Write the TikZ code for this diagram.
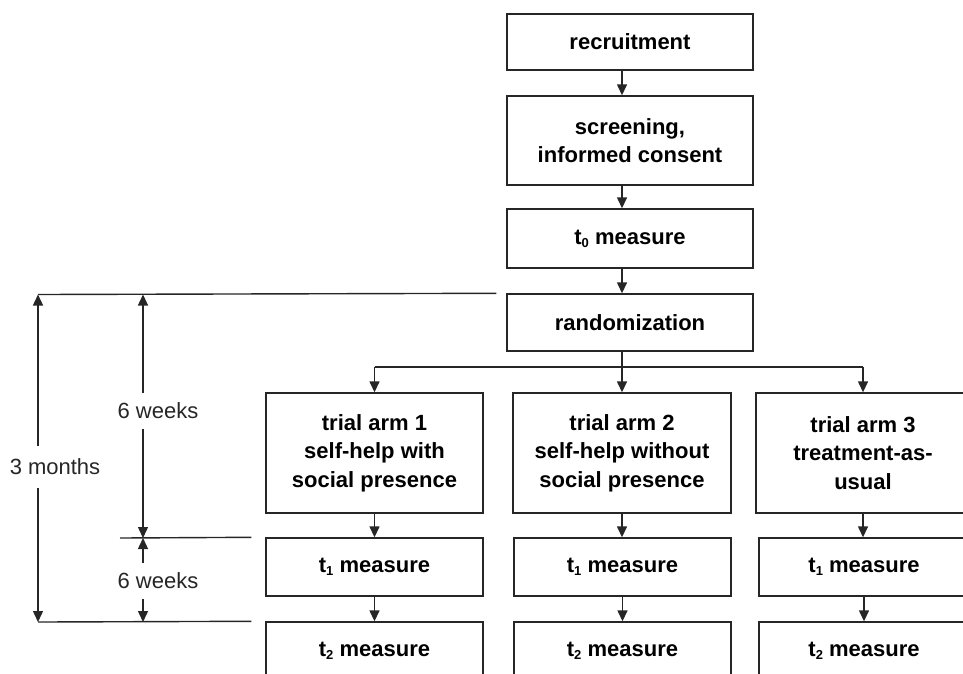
\documentclass[tikz,border=0pt]{standalone}
\usepackage{fontspec}
\setmainfont{Liberation Sans}
\usetikzlibrary{arrows.meta,positioning}

\newcommand{\idx}[1]{\raisebox{-0.25ex}{\fontsize{13}{13}\selectfont #1}}

\tikzset{
  box/.style={draw=black!85, line width=1.4pt, align=center, inner sep=0pt,
    font=\bfseries\fontsize{22}{28.5}\selectfont},
  line/.style={draw=black!85, line width=1.4pt},
  arr/.style={line, -{Triangle[width=10pt,length=11pt]}},
  dimarr/.style={line, {Triangle[width=10pt,length=11pt]}-{Triangle[width=10pt,length=11pt]}},
  dimlbl/.style={fill=white, text=black!85, inner xsep=1pt,
    font=\fontsize{22}{26}\selectfont}
}

\begin{document}
\begin{tikzpicture}[x=1pt,y=-1pt]
\useasboundingbox (0,0) rectangle (963,673);
% main chain
\node[box, minimum width=246pt, minimum height=56pt] (recruit) at (630,42) {recruitment};
\node[box, minimum width=246pt, minimum height=89pt] (screen) at (630,140.5) {screening,\\informed consent};
\node[box, minimum width=246pt, minimum height=59pt] (tzero) at (630,238.5) {t\idx{0} measure};
\node[box, minimum width=246pt, minimum height=57pt] (random) at (630,322.5) {randomization};
% trial arms
\node[box, minimum width=217pt, minimum height=120pt] (arm1) at (374.5,453) {trial arm 1\\self-help with\\social presence};
\node[box, minimum width=218pt, minimum height=120pt] (arm2) at (622,453) {trial arm 2\\self-help without\\social presence};
\node[box, minimum width=214pt, minimum height=120pt] (arm3) at (863,453) {trial arm 3\\treatment-as-\\usual};
\node[box, minimum width=217pt, minimum height=58pt] (tone1) at (374.5,567) {t\idx{1} measure};
\node[box, minimum width=217pt, minimum height=58pt] (tone2) at (622.5,567) {t\idx{1} measure};
\node[box, minimum width=210pt, minimum height=58pt] (tone3) at (864,567) {t\idx{1} measure};
\node[box, minimum width=217pt, minimum height=58pt] (ttwo1) at (374.5,651) {t\idx{2} measure};
\node[box, minimum width=217pt, minimum height=58pt] (ttwo2) at (622.5,651) {t\idx{2} measure};
\node[box, minimum width=210pt, minimum height=58pt] (ttwo3) at (864,651) {t\idx{2} measure};

\draw[arr] (recruit.south -| arm2.north) -- (screen.north -| arm2.north);
\draw[arr] (screen.south -| arm2.north) -- (tzero.north -| arm2.north);
\draw[arr] (tzero.south -| arm2.north) -- (random.north -| arm2.north);
\coordinate (split) at (622,367);
\draw[line] (split -| arm1.north) -- (split -| arm3.north);
\draw[arr] (random.south -| arm2.north) -- (arm2.north);
\draw[arr] (split -| arm1.north) -- (arm1.north);
\draw[arr] (split -| arm3.north) -- (arm3.north);
\foreach \i in {1,2,3} {
  \draw[arr] (arm\i.south) -- (arm\i.south |- tone\i.north);
  \draw[arr] (tone\i.south) -- (tone\i.south |- ttwo\i.north);
}

% time spans on the left
\coordinate (ltop) at (38,294.5);
\coordinate (lbot) at (38,622);
\coordinate (wtop) at (143,294.5);
\coordinate (wmid) at (143,538);
\coordinate (wbot) at (143,622);
\draw[line] (ltop) -- ([xshift=-10pt]random.north west);
\draw[line] (120,538) -- ([xshift=-14pt]tone1.north west);
\draw[line] (lbot) -- ([xshift=-14pt]ttwo1.north west);
\draw[dimarr] (ltop) -- (lbot);
\draw[dimarr] (wtop) -- (wmid);
\draw[dimarr] (wmid) -- (wbot);
\node[dimlbl, inner ysep=13pt] (months) at (55,467) {3 months};
\node[dimlbl, inner ysep=10pt] (weeks1) at (158,411) {6 weeks};
\node[dimlbl, inner ysep=10pt] (weeks2) at (158,581) {6 weeks};
\end{tikzpicture}
\end{document}
